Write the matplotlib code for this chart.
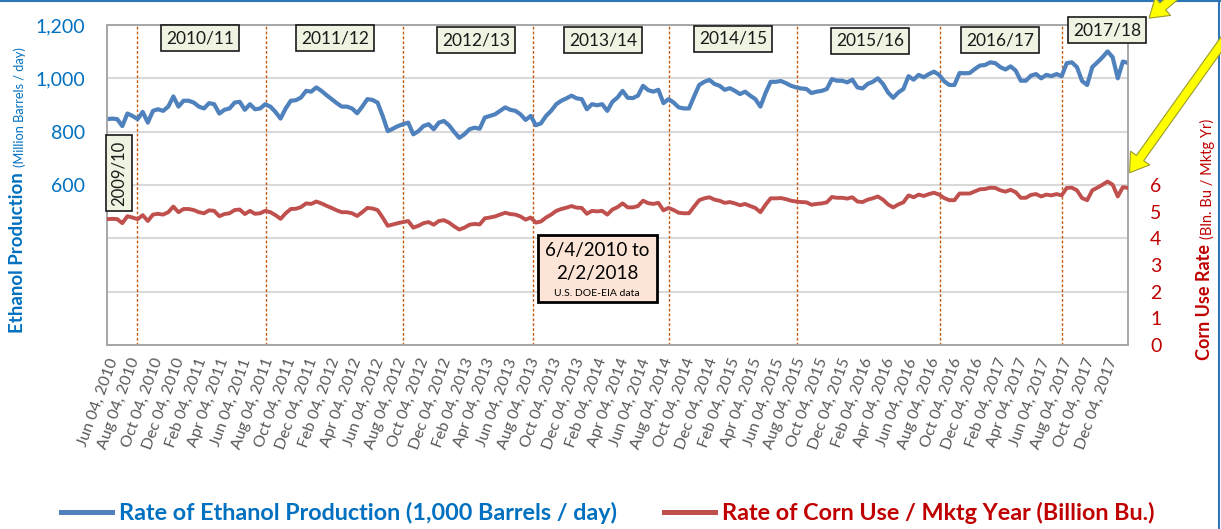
import matplotlib
matplotlib.use('Agg')
import matplotlib.pyplot as plt
import matplotlib.dates as mdates
from matplotlib.patches import FancyArrowPatch, Rectangle
from matplotlib.lines import Line2D
import pandas as pd

plt.rcParams['font.family'] = ['Lato', 'DejaVu Sans']

# ethanol production, 1,000 barrels / day, read every 2 weeks from 6/4/2010
ethanol = [
    847, 849, 847, 821, 868, 859, 847, 874, 834, 878, 884, 878, 894, 932, 894, 916, 916, 909, 894, 887,
    907, 903, 868, 882, 887, 909, 912, 882, 903, 884, 887, 903, 894, 874, 849, 887, 916, 918, 928, 953,
    950, 966, 953, 937, 922, 907, 894, 894, 887, 869, 894, 922, 919, 909, 859, 802, 811, 821, 828, 834,
    790, 802, 821, 828, 809, 834, 840, 824, 799, 777, 790, 809, 815, 811, 853, 859, 865, 878, 891, 882,
    878, 865, 844, 859, 824, 831, 859, 878, 903, 916, 925, 935, 925, 922, 884, 903, 899, 903, 878, 912,
    928, 953, 927, 926, 935, 972, 956, 950, 957, 907, 922, 909, 891, 887, 887, 932, 975, 987, 994, 979,
    972, 957, 963, 953, 941, 950, 935, 922, 894, 945, 987, 987, 990, 982, 972, 966, 962, 960, 945, 950,
    953, 960, 997, 991, 991, 985, 995, 966, 962, 979, 987, 1000, 979, 947, 927, 947, 960, 1008, 995, 1013,
    1004, 1016, 1025, 1013, 989, 975, 975, 1020, 1019, 1020, 1035, 1048, 1050, 1060, 1057, 1042, 1033, 1045, 1029, 991,
    991, 1010, 1016, 1000, 1013, 1008, 1016, 1008, 1057, 1060, 1042, 990, 975, 1042, 1060, 1079, 1101, 1079, 1000, 1063,
    1058,
]

# corn use rate, billion bushels / marketing year, same dates
corn = [
    4.72, 4.73, 4.72, 4.57, 4.83, 4.78, 4.72, 4.87, 4.65, 4.89, 4.92, 4.89, 4.98, 5.19, 4.98, 5.10, 5.10, 5.06, 4.98, 4.94,
    5.05, 5.03, 4.83, 4.91, 4.94, 5.06, 5.08, 4.91, 5.03, 4.92, 4.94, 5.03, 4.98, 4.87, 4.73, 4.94, 5.10, 5.11, 5.17, 5.31,
    5.29, 5.38, 5.31, 5.22, 5.14, 5.05, 4.98, 4.98, 4.94, 4.84, 4.98, 5.14, 5.12, 5.06, 4.78, 4.47, 4.52, 4.57, 4.61, 4.65,
    4.40, 4.47, 4.57, 4.61, 4.51, 4.65, 4.68, 4.59, 4.45, 4.33, 4.40, 4.51, 4.54, 4.52, 4.75, 4.78, 4.82, 4.89, 4.96, 4.91,
    4.89, 4.82, 4.70, 4.78, 4.59, 4.63, 4.78, 4.89, 5.03, 5.10, 5.15, 5.21, 5.15, 5.14, 4.92, 5.03, 5.01, 5.03, 4.89, 5.08,
    5.17, 5.31, 5.16, 5.16, 5.21, 5.41, 5.32, 5.29, 5.33, 5.05, 5.14, 5.06, 4.96, 4.94, 4.94, 5.19, 5.43, 5.50, 5.54, 5.45,
    5.41, 5.33, 5.36, 5.31, 5.24, 5.29, 5.21, 5.14, 4.98, 5.26, 5.50, 5.50, 5.51, 5.47, 5.41, 5.38, 5.36, 5.35, 5.26, 5.29,
    5.31, 5.35, 5.55, 5.52, 5.52, 5.49, 5.54, 5.38, 5.36, 5.45, 5.50, 5.57, 5.45, 5.27, 5.16, 5.27, 5.35, 5.61, 5.54, 5.64,
    5.59, 5.66, 5.71, 5.64, 5.51, 5.43, 5.43, 5.68, 5.68, 5.68, 5.76, 5.84, 5.85, 5.90, 5.89, 5.80, 5.75, 5.82, 5.73, 5.52,
    5.52, 5.63, 5.66, 5.57, 5.64, 5.61, 5.66, 5.61, 5.89, 5.90, 5.80, 5.51, 5.43, 5.80, 5.90, 6.01, 6.13, 6.01, 5.57, 5.92,
    5.89,
]

dates = pd.date_range('2010-06-04', periods=len(ethanol), freq='14D')

year_lines = ['2010-08-26', '2011-08-15', '2012-08-23', '2013-08-14',
              '2014-08-24', '2015-08-08', '2016-09-04', '2017-08-04']
year_labels = ['2010/11', '2011/12', '2012/13', '2013/14', '2014/15', '2015/16', '2016/17', '2017/18']
label_pos = [(200, 38), (335, 38), (476, 40), (603, 40), (733, 39), (870, 41), (1000, 40), (1107, 30)]

W, H = 1221, 529


def fx(x):
    return x / W


def fy(y):
    return 1 - y / H


fig = plt.figure(figsize=(12.21, 5.29), dpi=100)
ax = fig.add_axes([fx(107), fy(345), (1128 - 107) / W, (345 - 25) / H])
ax2 = ax.twinx()

ax.set_ylim(0, 1200)
ax.set_yticks(range(0, 1201, 200))
ax.yaxis.set_major_formatter(lambda v, p: f'{int(v):,}' if v >= 600 else '')
ax.grid(axis='y', color='#D9D9D9', lw=1.5)
ax.set_axisbelow(True)

ax2.set_ylim(0, 12)
ax2.set_yticks(range(0, 13))
ax2.yaxis.set_major_formatter(lambda v, p: f'{int(v)}' if v <= 6 else '')

for d in year_lines:
    ax.axvline(pd.Timestamp(d), color='#C55A11', lw=1, ls=(0, (2, 1.5)), zorder=1)

ax.plot(dates, ethanol, color='#4F81BD', lw=3, zorder=3, solid_capstyle='round')
ax2.plot(dates, corn, color='#C0504D', lw=2.8, zorder=3, solid_capstyle='round')

ax.set_xlim(dates[0], dates[-1])
xt = pd.date_range('2010-06-01', periods=46, freq='2MS') + pd.Timedelta(days=3)
ax.set_xticks(xt)
ax.xaxis.set_major_formatter(mdates.DateFormatter('%b %d, %Y'))
for t in ax.get_xticklabels():
    t.set_rotation(70)
    t.set_ha('right')
    t.set_rotation_mode('anchor')
ax.tick_params(axis='x', length=0, pad=8, labelsize=11.5, labelcolor='#595959')
ax.tick_params(axis='y', length=0, pad=16, labelsize=14, labelcolor='#0070C0')
ax2.tick_params(axis='y', length=0, pad=16, labelsize=14, labelcolor='#C00000')

for a in (ax, ax2):
    for s in a.spines.values():
        s.set_color('#A6A6A6')
        s.set_linewidth(1.2)

# axis titles: bold part first, then the unit part placed right after it
fig.canvas.draw()
rend = fig.canvas.get_renderer()
for x, y0, bold, unit, col, bsize, usize in [
        (18, 333, 'Ethanol Production', '(Million Barrels / day)', '#0070C0', 13.5, 9.2),
        (1205, 360, 'Corn Use Rate', '(Bln. Bu / Mktg Yr)', '#C00000', 13, 10.5)]:
    tb = fig.text(fx(x), fy(y0), bold, rotation=90, ha='center', va='bottom',
                  color=col, fontsize=bsize, fontweight='bold')
    top = tb.get_window_extent(rend).y1
    fig.text(fx(x + 2), (top + 5) / fig.bbox.height, unit, rotation=90, ha='center', va='bottom',
             color=col, fontsize=usize)

# marketing year boxes
box = dict(boxstyle='square,pad=0.3', fc='#EEF3E2', ec='#1a1a1a', lw=1.2)
for lab, (x, y) in zip(year_labels, label_pos):
    fig.text(fx(x), fy(y), lab, ha='center', va='center', fontsize=12.5, color='#1a1a1a', bbox=box)
fig.text(fx(118.5), fy(173), '2009/10', rotation=90, ha='center', va='center',
         fontsize=12, color='#1a1a1a', bbox=box)

# date range note
fig.add_artist(Rectangle((fx(538), fy(302)), (657 - 538) / W, (302 - 235) / H,
                         transform=fig.transFigure, fc='#FCE4D6', ec='black', lw=2, zorder=5))
fig.text(fx(597), fy(250), '6/4/2010 to', ha='center', va='center', fontsize=13.5, zorder=6)
fig.text(fx(597), fy(274), '2/2/2018', ha='center', va='center', fontsize=13.5, zorder=6)
fig.text(fx(597), fy(294), 'U.S. DOE-EIA data', ha='center', va='center', fontsize=7.5, zorder=6)

# yellow arrows
arr = 'simple,head_length=1.3,head_width=1.7,tail_width=0.65'
for p0, p1 in [((1182, -10), (1147, 20)), ((1235, 25), (1128, 175))]:
    fig.add_artist(FancyArrowPatch((fx(p0[0]), fy(p0[1])), (fx(p1[0]), fy(p1[1])),
                                   transform=fig.transFigure, arrowstyle=arr, mutation_scale=10,
                                   fc='#FFFF00', ec='#9A9A30', lw=0.8, zorder=10))

# outer frame (top and right edges)
fig.add_artist(Line2D([0, 1], [0.999, 0.999], transform=fig.transFigure, color='#2E75B6', lw=1.5))
fig.add_artist(Line2D([0.998, 0.998], [0, 1], transform=fig.transFigure, color='#2E75B6', lw=1.5))

handles = [Line2D([], [], color='#4F81BD', lw=3.6), Line2D([], [], color='#C0504D', lw=3.6)]
leg = fig.legend(handles, ['Rate of Ethanol Production (1,000 Barrels / day)',
                           'Rate of Corn Use / Mktg Year (Billion Bu.)'],
                 loc='center', bbox_to_anchor=(0.4975, fy(513)), ncol=2, frameon=False,
                 handlelength=2.2, handletextpad=0.3, columnspacing=2.0,
                 prop={'size': 16.8, 'weight': 'bold'})
for t, c in zip(leg.get_texts(), ['#0070C0', '#C00000']):
    t.set_color(c)

fig.savefig('out.png', dpi=100)
